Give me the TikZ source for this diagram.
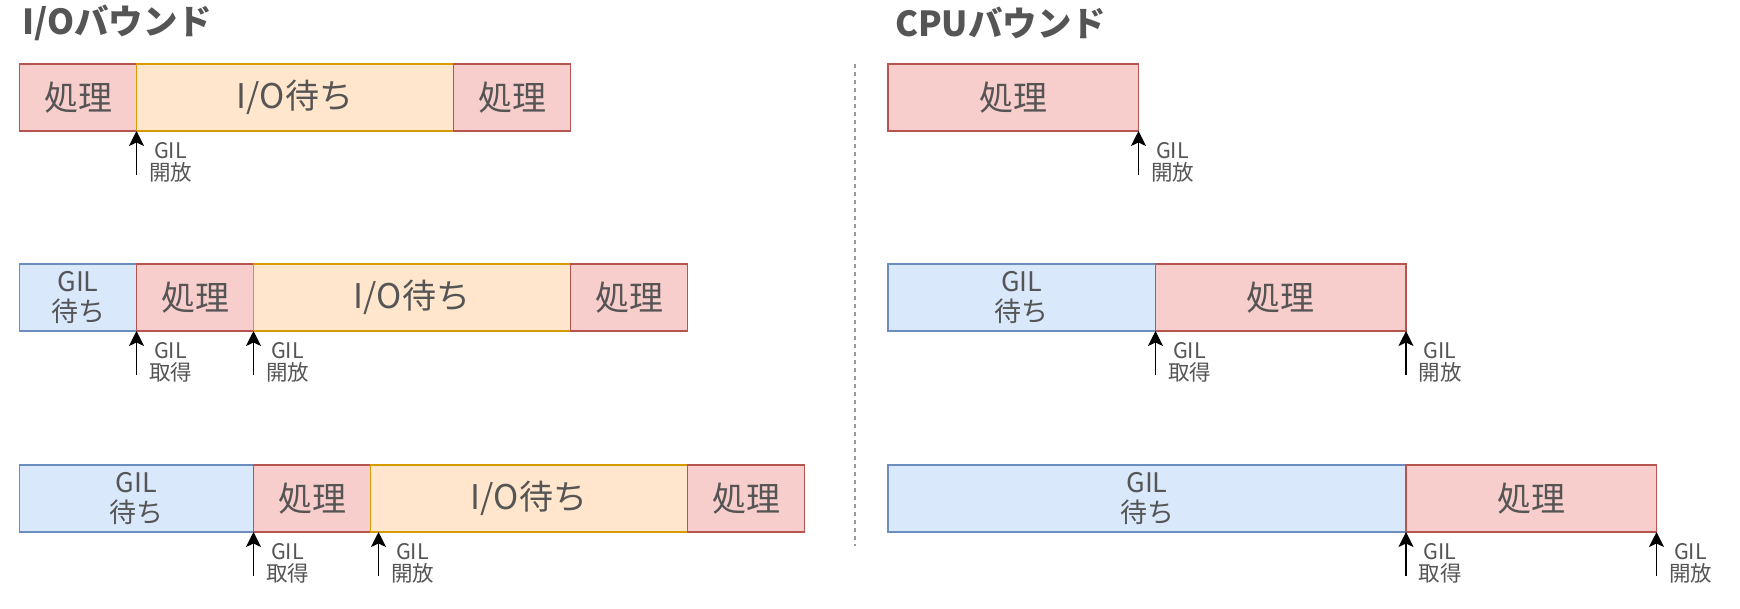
\documentclass[tikz,border=0pt]{standalone}
\usepackage{fontspec}
\setmainfont{Noto Sans CJK JP}
\usetikzlibrary{calc,arrows.meta}
\definecolor{txt}{HTML}{555555}
\definecolor{procfill}{HTML}{F8CECC}
\definecolor{procline}{HTML}{B85450}
\definecolor{iofill}{HTML}{FFE6CC}
\definecolor{ioline}{HTML}{D79B00}
\definecolor{gilfill}{HTML}{DAE8FC}
\definecolor{gilline}{HTML}{6C8EBF}
\definecolor{sep}{HTML}{999999}
\tikzset{
  blk/.style={draw, line width=1.5pt, minimum height=67pt, inner sep=0pt, outer sep=0pt, anchor=north west, text=txt},
  proc/.style={blk, fill=procfill, draw=procline, font=\fontsize{34}{36}\selectfont},
  iow/.style={blk, fill=iofill, draw=ioline, font=\fontsize{34}{36}\selectfont},
  gilw/.style={blk, fill=gilfill, draw=gilline, align=center, font=\fontsize{27}{30}\selectfont},
  gilarrow/.style={draw=black, line width=1.8pt, -{Stealth[length=15pt, width=15pt, inset=3.5pt]}},
  lbl/.style={text=txt, align=center, inner sep=0pt, font=\fontsize{21.5}{22}\selectfont},
  ttl/.style={text=txt, anchor=west, inner sep=0pt, font=\fontsize{34.5}{36}\selectfont\bfseries},
}
\begin{document}
\begin{tikzpicture}[x=1pt, y=-1pt]
\useasboundingbox (0,0) rectangle (1740,609);
% titles
\node[ttl] (t1) at (22,23) {I/Oバウンド};
\node[ttl] (t2) at (895,23) {CPUバウンド};
% separator
\coordinate (s1) at (855,64);
\coordinate (s2) at (855,546);
\draw[sep, line width=1.5pt, dash pattern=on 4pt off 4pt] (s1) -- (s2);
% ---- I/O bound row 1
\node[proc, minimum width=117pt] (a1) at (19.5,64) {処理};
\node[iow, minimum width=317pt] (a2) at (a1.north east) {I/O待ち};
\node[proc, minimum width=117pt] (a3) at (a2.north east) {処理};
% ---- row 2
\node[gilw, minimum width=117pt] (b1) at (19.5,264) {GIL\\待ち};
\node[proc, minimum width=117pt] (b2) at (b1.north east) {処理};
\node[iow, minimum width=317pt] (b3) at (b2.north east) {I/O待ち};
\node[proc, minimum width=117pt] (b4) at (b3.north east) {処理};
% ---- row 3
\node[gilw, minimum width=234pt] (c1) at (19.5,465) {GIL\\待ち};
\node[proc, minimum width=117pt] (c2) at (c1.north east) {処理};
\node[iow, minimum width=317pt] (c3) at (c2.north east) {I/O待ち};
\node[proc, minimum width=117pt] (c4) at (c3.north east) {処理};
% ---- CPU bound
\node[proc, minimum width=250.5pt] (d1) at (888,64) {処理};
\node[gilw, minimum width=267.5pt] (e1) at (888,264) {GIL\\待ち};
\node[proc, minimum width=250.5pt] (e2) at (e1.north east) {処理};
\node[gilw, minimum width=518pt] (f1) at (888,465) {GIL\\待ち};
\node[proc, minimum width=250.5pt] (f2) at (f1.north east) {処理};
% ---- arrow tips (on the lower edges)
\coordinate (a1-tip) at (a1.south east);
\coordinate (b1-tip) at (b1.south east);
\coordinate (b2-tip) at (b2.south east);
\coordinate (c1-tip) at (c1.south east);
\coordinate (c2-tip) at ($(c3.south west)+(8,0)$);
\coordinate (d1-tip) at (d1.south east);
\coordinate (e1-tip) at (e1.south east);
\coordinate (e2-tip) at (e2.south east);
\coordinate (f1-tip) at (f1.south east);
\coordinate (f2-tip) at (f2.south east);
% ---- arrows and labels
\foreach \n/\t in {a1/開放, b1/取得, b2/開放, c1/取得, c2/開放,
                   d1/開放, e1/取得, e2/開放, f1/取得, f2/開放}{
  \coordinate (\n-tail) at ($(\n-tip)+(0,44)$);
  \draw[gilarrow] (\n-tail) -- (\n-tip);
  \node[lbl] (\n-lbl) at ($(\n-tip)+(34,31.5)$) {GIL\\\t};
}
\end{tikzpicture}
\end{document}
